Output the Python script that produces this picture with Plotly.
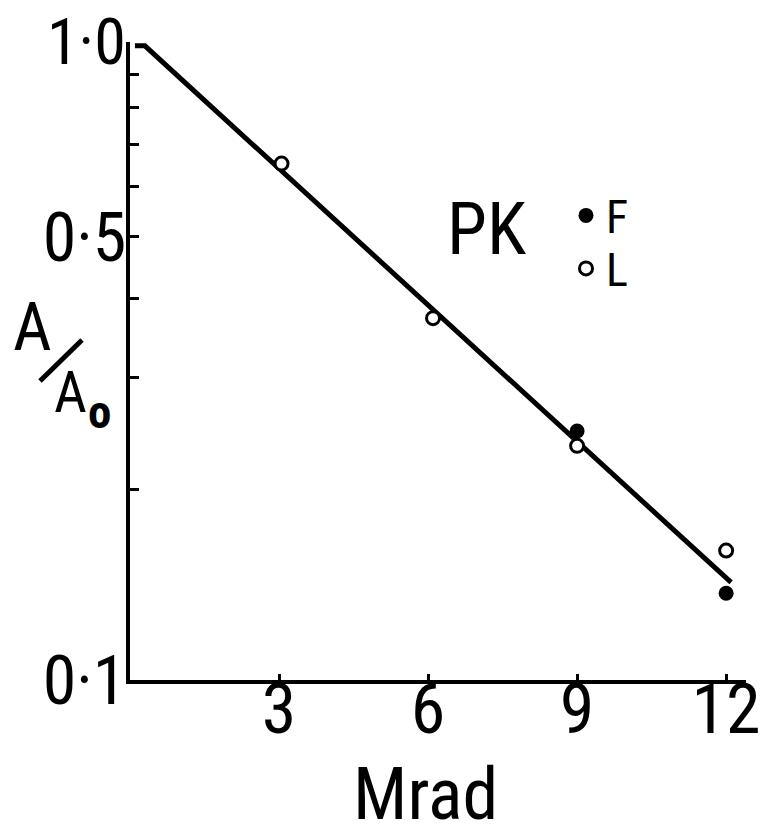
import plotly.graph_objects as go

# Dose (Mrad) and relative activity A/A0 for the two PK preparations
dose_F = [9.0, 12.0]
ratio_F = [0.247, 0.137]
dose_L = [3.05, 6.1, 9.0, 12.0]
ratio_L = [0.652, 0.372, 0.234, 0.160]

# Fitted exponential decay line (straight on the log axis)
fit_dose = [0.1, 0.3, 12.1]
fit_ratio = [1.0, 1.0, 0.1425]

x_tickvals = [3, 6, 9, 12]
x_ticktext = ["3", "6", "9", "12"]
y_tickvals = [0.1, 0.2, 0.3, 0.4, 0.5, 0.6, 0.7, 0.8, 0.9]
y_ticktext = ["0·1", "", "", "", "0·5", "", "", "", ""]
top_label = "1·0"

FONT = "Roboto Condensed, DejaVu Sans Condensed, sans-serif"
W, H = 763, 826
ML, MR, MT, MB = 130, 17, 42, 146
PW, PH = W - ML - MR, H - MT - MB


def px(x):
    return (x - ML) / PW


def py(y):
    return (H - MB - y) / PH


fig = go.Figure()
fig.add_trace(go.Scatter(
    x=fit_dose, y=fit_ratio, mode="lines",
    line=dict(color="black", width=5), showlegend=False, hoverinfo="skip"))
fig.add_trace(go.Scatter(
    x=dose_F, y=ratio_F, mode="markers", name="F", legend="legend",
    marker=dict(symbol="circle", size=15, color="black",
                line=dict(color="black", width=0))))
fig.add_trace(go.Scatter(
    x=dose_L, y=ratio_L, mode="markers", name="L", legend="legend2",
    marker=dict(symbol="circle", size=13, color="white",
                line=dict(color="black", width=3))))

legend_style = dict(
    xanchor="left", yanchor="top", bgcolor="rgba(0,0,0,0)",
    font=dict(size=46, family=FONT, color="black"), itemwidth=30,
)

fig.update_layout(
    width=W, height=H,
    margin=dict(l=ML, r=MR, t=MT, b=MB, autoexpand=False),
    paper_bgcolor="white", plot_bgcolor="white",
    font=dict(family=FONT, color="black"),
    xaxis=dict(
        range=[0, 12.4], showgrid=False, zeroline=False, automargin=False,
        showline=True, linecolor="black", linewidth=4,
        tickvals=x_tickvals, ticktext=x_ticktext,
        ticks="inside", ticklen=6, tickwidth=3, tickcolor="black",
        tickfont=dict(size=70, family=FONT, color="black"),
        ticklabelstandoff=-35, ticklabeloverflow="allow",
    ),
    yaxis=dict(
        type="log", range=[-1, 0.006], showgrid=False, zeroline=False,
        automargin=False,
        showline=True, linecolor="black", linewidth=4,
        tickvals=y_tickvals, ticktext=y_ticktext,
        ticks="inside", ticklen=9, tickwidth=3, tickcolor="black",
        tickfont=dict(size=68, family=FONT, color="black"),
        ticklabelstandoff=-14, ticklabeloverflow="allow",
    ),
    legend=dict(x=px(566), y=py(179), **legend_style),
    legend2=dict(x=px(566), y=py(232), **legend_style),
)

annotations = [
    dict(text=top_label, x=px(86), y=py(42), font=dict(size=64)),
    dict(text="Mrad", x=px(425), y=py(794), font=dict(size=72)),
    dict(text="PK", x=px(486), y=py(229), font=dict(size=72)),
    dict(text="A", x=px(32), y=py(327), font=dict(size=67)),
    dict(text="A", x=px(70), y=py(392), font=dict(size=57)),
    dict(text="<b>o</b>", x=px(99), y=py(411), font=dict(size=47)),
]
for a in annotations:
    a.update(xref="paper", yref="paper", showarrow=False,
             xanchor="center", yanchor="middle")
    a["font"].update(family=FONT, color="black")
fig.update_layout(annotations=annotations)

# slash of the A/A0 axis label
fig.add_shape(type="line", xref="paper", yref="paper",
              x0=px(40), y0=py(381), x1=px(82), y1=py(340),
              line=dict(color="black", width=5))

fig.write_html("out.html")
